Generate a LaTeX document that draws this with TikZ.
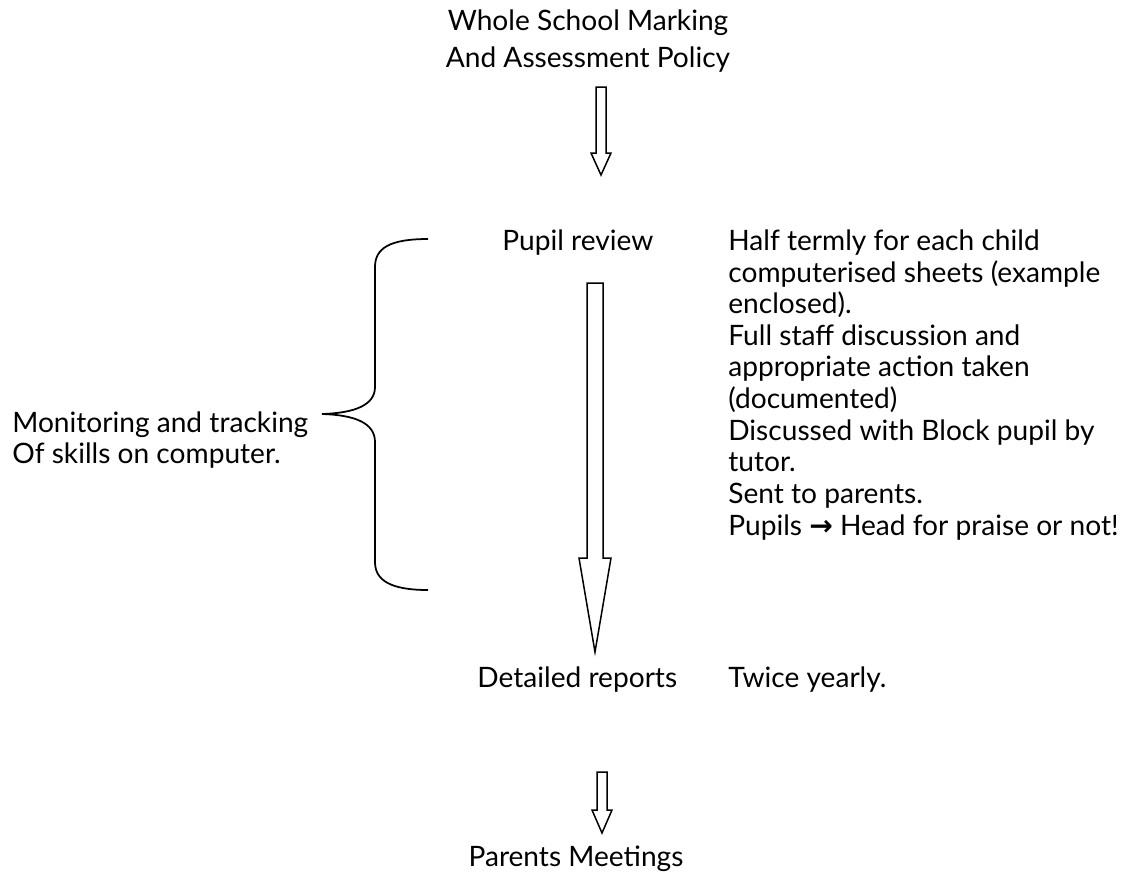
\documentclass[tikz,border=0pt]{standalone}
\usepackage{fontspec}
\setmainfont{Lato}
\newfontfamily\symfont{DejaVu Sans}
\usetikzlibrary{calc}

\begin{document}
\begin{tikzpicture}[x=0.02cm,y=-0.02cm,line join=miter]
	\tikzstyle{every node}=[inner sep=0pt,font=\fontsize{16}{18}\selectfont]
	\tikzstyle{label}=[anchor=base west,align=left]
	\tikzstyle{title}=[anchor=base,align=center,font=\fontsize{16}{20.8}\selectfont]
	\tikzstyle{block arrow}=[draw=black,line width=0.85pt,fill=white]
	\tikzstyle{brace line}=[draw=black,line width=1pt]
	
	% shaft half width #3, head half width #4, head length #5
	\def\hollowarrow#1#2#3#4#5{
		\path[block arrow] ($(#1)+(-#3,0)$) -- ($(#2)+(-#3,-#5)$) -- ($(#2)+(-#4,-#5)$)
		-- (#2) -- ($(#2)+(#4,-#5)$) -- ($(#2)+(#3,-#5)$) -- ($(#1)+(#3,0)$) -- cycle;
	}
	
	\useasboundingbox (0,0) rectangle (1144,877);
	
	% Draw the stages (base = last line)
	\node[title] (policy) at (588,67) {Whole School Marking\\And Assessment Policy};
	\node[label] (review) at (502,250) {Pupil review};
	\node[label] (reports) at (477,687) {Detailed reports};
	\node[title] (meetings) at (576,866) {Parents Meetings};
	
	% Draw the notes
	\node[label] (reviewnote) at (728,535) {Half termly for each child\\computerised sheets (example\\enclosed).\\Full staff discussion and\\appropriate action taken\\(documented)\\Discussed with Block pupil by\\tutor.\\Sent to parents.\\Pupils {\symfont\bfseries →} Head for praise or not!};
	\node[label] (reportsnote) at (728,687) {Twice yearly.};
	\node[label,font=\fontsize{16}{17.6}\selectfont] (monitor) at (12,463) {Monitoring and tracking\\Of skills on computer.};
	
	% Connect the stages
	\coordinate (a1) at (601,87);   \coordinate (a1t) at (601,175);
	\coordinate (a2) at (595,283);  \coordinate (a2t) at (595,652);
	\coordinate (a3) at (602,772);  \coordinate (a3t) at (602,833);
	\hollowarrow{a1}{a1t}{5}{10}{22}
	\hollowarrow{a2}{a2t}{8}{16}{94}
	\hollowarrow{a3}{a3t}{5}{10}{23}
	
	% Brace round the review period
	\coordinate (bracetip) at (322,414);
	\draw[brace line] (428,239) .. controls (390,239) and (375,248) .. (375,267) -- (375,387)
		.. controls (375,405) and (355,413) .. (bracetip)
		.. controls (355,415) and (375,423) .. (375,442) -- (375,562)
		.. controls (375,580) and (390,590) .. (428,590);
\end{tikzpicture}
\end{document}
